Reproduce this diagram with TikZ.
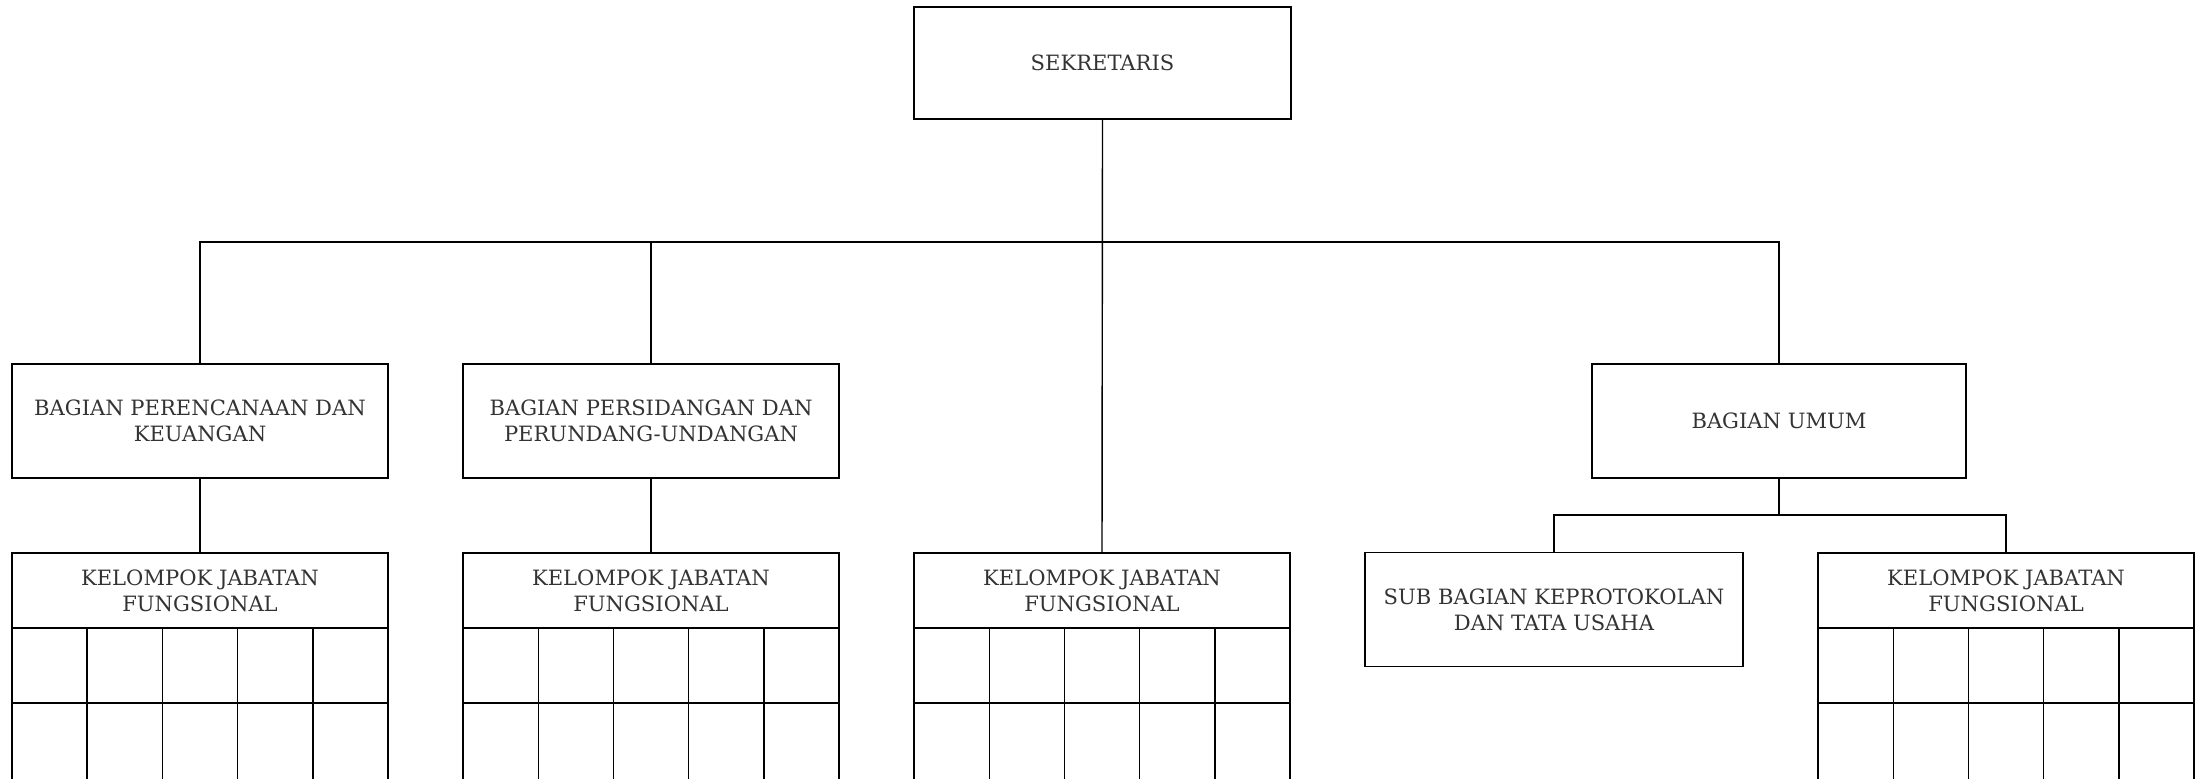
\documentclass[tikz,border=0pt]{standalone}
\usepackage{fontspec}
\setmainfont{DejaVu Serif}
\usepackage{tikz}
\tikzset{
  line width=0.6pt,
  unit/.style={draw, rectangle, inner sep=0pt, outer sep=0pt, align=center,
    text=black!80, font=\fontsize{6}{7.4}\selectfont},
  unitbox/.style={unit, minimum width=3.76cm, minimum height=1.14cm},
  kjfhead/.style={unit, minimum width=3.76cm, minimum height=0.75cm}
}
\begin{document}
\begin{tikzpicture}
    \useasboundingbox (0,0) rectangle (21.96,-7.78);
    \node[unit, minimum width=3.77cm, minimum height=1.12cm] (sek) at (11.025,-0.63) {SEKRETARIS};
    \node[unitbox] (renc) at (2.00,-4.21) {BAGIAN PERENCANAAN DAN\\KEUANGAN};
    \node[unitbox] (sidang) at (6.51,-4.21) {BAGIAN PERSIDANGAN DAN\\PERUNDANG-UNDANGAN};
    \node[unitbox, minimum width=3.74cm] (umum) at (17.79,-4.21) {BAGIAN UMUM};
    \node[unitbox, minimum width=3.78cm] (protokol) at (15.54,-6.095) {SUB BAGIAN KEPROTOKOLAN\\DAN TATA USAHA};
    \node[kjfhead] (kjf1) at (2.00,-5.905) {KELOMPOK JABATAN\\FUNGSIONAL};
    \node[kjfhead] (kjf2) at (6.51,-5.905) {KELOMPOK JABATAN\\FUNGSIONAL};
    \node[kjfhead] (kjf3) at (11.02,-5.905) {KELOMPOK JABATAN\\FUNGSIONAL};
    \node[kjfhead] (kjf4) at (20.06,-5.905) {KELOMPOK JABATAN\\FUNGSIONAL};
    \foreach \k in {kjf1,kjf2,kjf3,kjf4}
      \foreach \i in {0,...,4} {
        \draw (\k.south west) ++(\i*0.752,0) rectangle ++(0.752,-0.75);
        \draw (\k.south west) ++(\i*0.752,-0.75) rectangle ++(0.752,-0.8);
      }
    \coordinate (bus) at (0,-2.42);
    \coordinate (split) at (0,-5.15);
    \draw (sek.south) -- (kjf3.north);
    \draw (renc.north) |- (umum.north |- bus) -- (umum.north);
    \draw (sidang.north) -- (sidang.north |- bus);
    \draw (renc.south) -- (kjf1.north);
    \draw (sidang.south) -- (kjf2.north);
    \draw (umum.south) -- (umum.south |- split);
    \draw (protokol.north) |- (kjf4.north |- split) -- (kjf4.north);
  \end{tikzpicture}
\end{document}
